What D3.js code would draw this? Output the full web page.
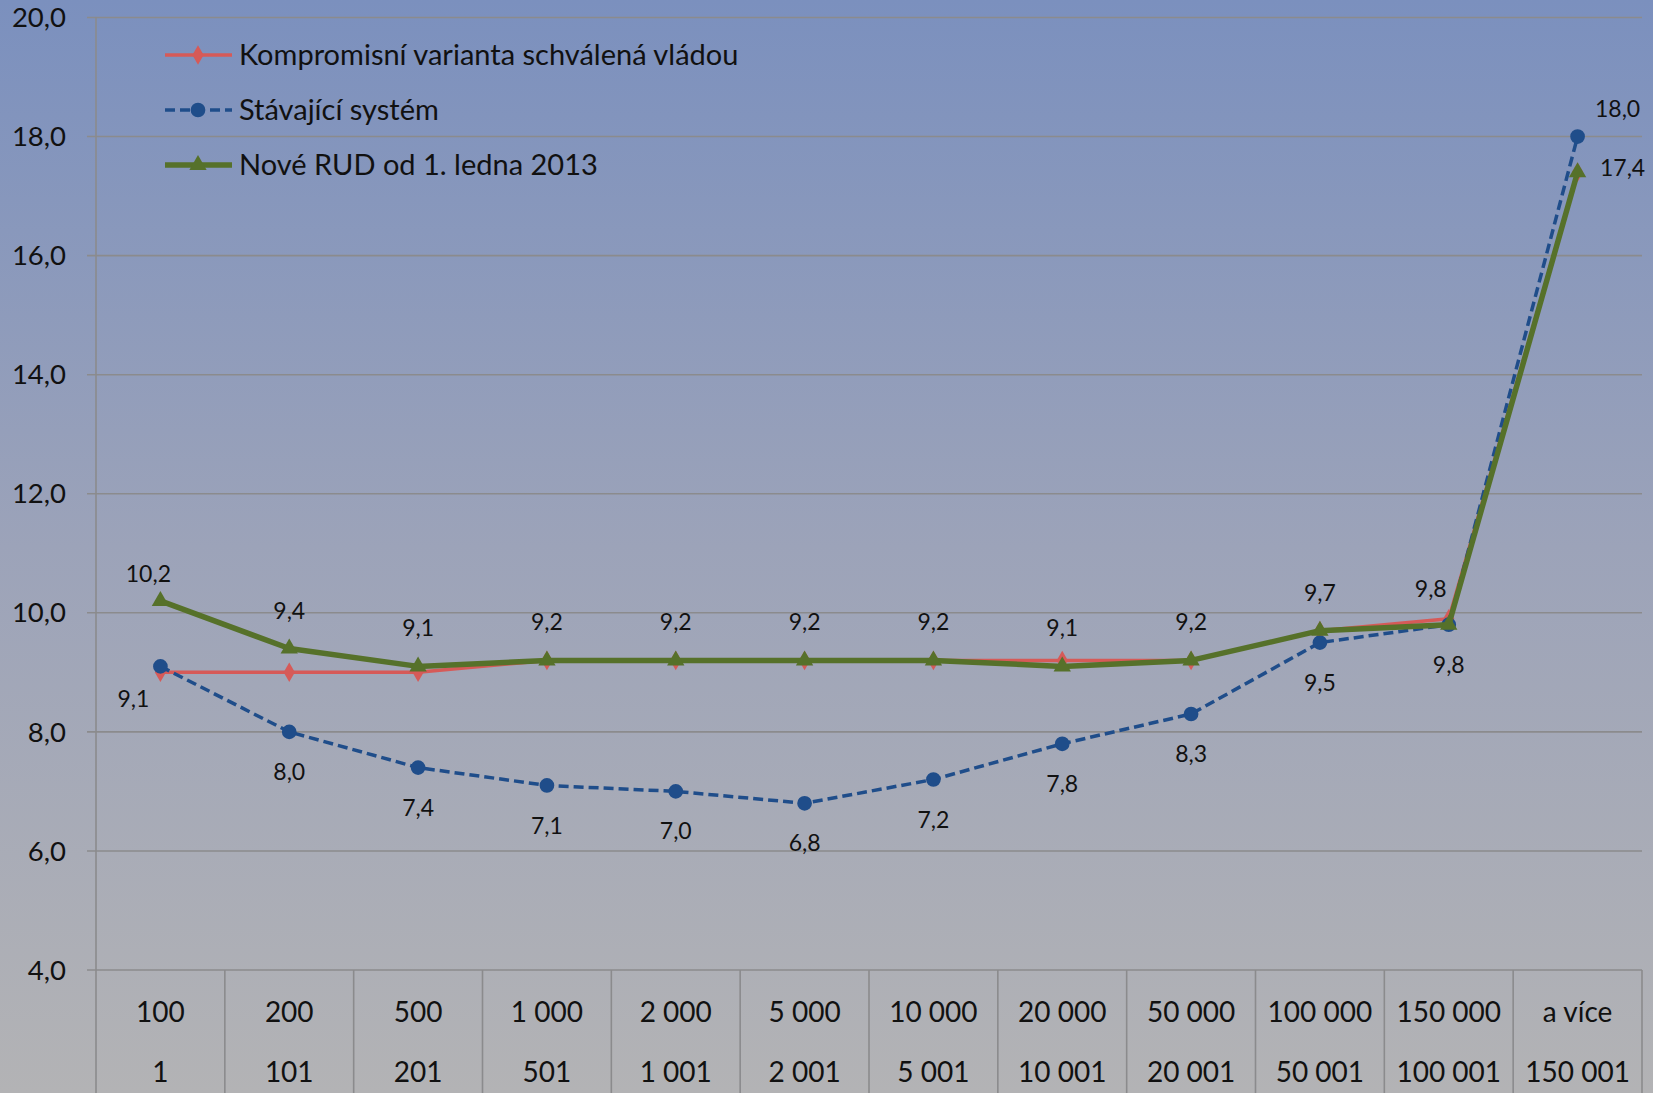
<!DOCTYPE html>
<html>
<head>
<meta charset="utf-8">
<script src="https://cdn.jsdelivr.net/npm/d3@7"></script>
<style>
  html, body { margin: 0; padding: 0; background: #b2b2b5; }
  svg { display: block; font-family: Lato, "Open Sans", sans-serif; }
</style>
</head>
<body>
<div id="chart"></div>
<script>
// category rows: upper bound on top, lower bound below
const upperLabels = ["100", "200", "500", "1 000", "2 000", "5 000", "10 000", "20 000", "50 000", "100 000", "150 000", "a více"];
const lowerLabels = ["1", "101", "201", "501", "1 001", "2 001", "5 001", "10 001", "20 001", "50 001", "100 001", "150 001"];

const seriesNames = ["Kompromisní varianta schválená vládou", "Stávající systém", "Nové RUD od 1. ledna 2013"];

const kompromisni = [9.0, 9.0, 9.0, 9.2, 9.2, 9.2, 9.2, 9.2, 9.2, 9.7, 9.9, 17.4];
const stavajici   = [9.1, 8.0, 7.4, 7.1, 7.0, 6.8, 7.2, 7.8, 8.3, 9.5, 9.8, 18.0];
const noveRud     = [10.2, 9.4, 9.1, 9.2, 9.2, 9.2, 9.2, 9.1, 9.2, 9.7, 9.8, 17.4];

const yTicks = [4, 6, 8, 10, 12, 14, 16, 18, 20];

const W = 1653, H = 1093;
const mg = { left: 96, right: 11, top: 17.5, bottom: 123 };

const fmt = (v) => d3.format(".1f")(v).replace(".", ",");

const svg = d3.select("#chart").append("svg")
  .attr("width", W)
  .attr("height", H);

// Background gradient (blue on top, grey at the bottom)
const grad = svg.append("defs").append("linearGradient")
  .attr("id", "bg")
  .attr("x1", 0).attr("y1", 0).attr("x2", 0).attr("y2", 1);
grad.append("stop").attr("offset", "0%").attr("stop-color", "#7b90be");
grad.append("stop").attr("offset", "50%").attr("stop-color", "#9ca3b9");
grad.append("stop").attr("offset", "100%").attr("stop-color", "#b3b3b5");

svg.append("rect")
  .attr("width", W).attr("height", H)
  .attr("fill", "url(#bg)");

const x = d3.scaleBand()
  .domain(d3.range(upperLabels.length))
  .range([mg.left, W - mg.right]);

const y = d3.scaleLinear()
  .domain([4, 20])
  .range([H - mg.bottom, mg.top]);

const cx = (i) => x(i) + x.bandwidth() / 2;

// Gridlines + tick marks
svg.append("g")
  .selectAll("line")
  .data(yTicks)
  .join("line")
  .attr("x1", mg.left - 9)
  .attr("x2", W - mg.right)
  .attr("y1", (d) => y(d))
  .attr("y2", (d) => y(d))
  .attr("stroke", "#8b8b8d")
  .attr("stroke-width", 1.6);

// Y labels
svg.append("g")
  .selectAll("text")
  .data(yTicks)
  .join("text")
  .attr("x", 66)
  .attr("y", (d) => y(d))
  .attr("dy", "0.35em")
  .attr("text-anchor", "end")
  .attr("font-size", 27.5)
  .attr("fill", "#111")
  .text(fmt);

// Left axis line
svg.append("line")
  .attr("x1", mg.left).attr("x2", mg.left)
  .attr("y1", mg.top).attr("y2", H)
  .attr("stroke", "#8b8b8d")
  .attr("stroke-width", 1.6);

// Category dividers below axis
const bounds = d3.range(upperLabels.length + 1).map((i) => mg.left + i * x.bandwidth());
svg.append("g")
  .selectAll("line")
  .data(bounds.slice(1))
  .join("line")
  .attr("x1", (d) => d).attr("x2", (d) => d)
  .attr("y1", y(4)).attr("y2", H)
  .attr("stroke", "#8b8b8d")
  .attr("stroke-width", 1.6);

// Category labels (two rows)
const catG = svg.append("g")
  .attr("font-size", 28)
  .attr("fill", "#111")
  .attr("text-anchor", "middle");

catG.selectAll(".upper")
  .data(upperLabels)
  .join("text")
  .attr("class", "upper")
  .attr("x", (d, i) => cx(i))
  .attr("y", 1012)
  .attr("dy", "0.35em")
  .text((d) => d);

catG.selectAll(".lower")
  .data(lowerLabels)
  .join("text")
  .attr("class", "lower")
  .attr("x", (d, i) => cx(i))
  .attr("y", 1072)
  .attr("dy", "0.35em")
  .text((d) => d);

// Series styling
const series = [
  { name: seriesNames[0], values: kompromisni, color: "#d65a58", width: 3.5, dash: null, marker: d3.symbolDiamond, msize: 110, labels: false },
  { name: seriesNames[1], values: stavajici, color: "#1f4d8a", width: 3.5, dash: "10,5", marker: d3.symbolCircle, msize: 170, labels: "below" },
  { name: seriesNames[2], values: noveRud, color: "#56712a", width: 5.5, dash: null, marker: d3.symbolTriangle, msize: 130, labels: "above" }
];

const line = d3.line()
  .x((d, i) => cx(i))
  .y((d) => y(d));

series.forEach((s) => {
  const g = svg.append("g");

  g.append("path")
    .attr("d", line(s.values))
    .attr("fill", "none")
    .attr("stroke", s.color)
    .attr("stroke-width", s.width)
    .attr("stroke-dasharray", s.dash)
    .attr("stroke-linejoin", "round");

  g.selectAll("path.mk")
    .data(s.values)
    .join("path")
    .attr("class", "mk")
    .attr("transform", (d, i) => `translate(${cx(i)},${y(d)})`)
    .attr("d", d3.symbol().type(s.marker).size(s.msize))
    .attr("fill", s.color);
});

// Data labels
const last = upperLabels.length - 1;

function labelOffset (side, i) {
  if (side === "above") {
    if (i === 0) return [-12, -27];
    if (i === last) return [45, -4];
    if (i === last - 1) return [-18, -36];
    return [0, -38];
  }
  if (i === 0) return [-27, 33];
  if (i === last) return [40, -28];
  return [0, 40];
}

series.filter((s) => s.labels).forEach((s) => {
  svg.append("g")
    .selectAll("text")
    .data(s.values)
    .join("text")
    .attr("x", (d, i) => cx(i) + labelOffset(s.labels, i)[0])
    .attr("y", (d, i) => y(d) + labelOffset(s.labels, i)[1])
    .attr("dy", "0.35em")
    .attr("text-anchor", "middle")
    .attr("font-size", 23)
    .attr("fill", "#111")
    .text(fmt);
});

// Legend
const legend = svg.append("g")
  .selectAll("g")
  .data(series)
  .join("g")
  .attr("transform", (d, i) => `translate(165,${55 + i * 55})`);

legend.append("line")
  .attr("x1", 0).attr("x2", 67)
  .attr("y1", 0).attr("y2", 0)
  .attr("stroke", (d) => d.color)
  .attr("stroke-width", (d) => d.width)
  .attr("stroke-dasharray", (d) => d.dash);

legend.append("path")
  .attr("transform", "translate(33,0)")
  .attr("d", (d) => d3.symbol().type(d.marker).size(d.msize)())
  .attr("fill", (d) => d.color);

legend.append("text")
  .attr("x", 74)
  .attr("y", 0)
  .attr("dy", "0.35em")
  .attr("font-size", 29)
  .attr("fill", "#111")
  .text((d) => d.name);
</script>
</body>
</html>
